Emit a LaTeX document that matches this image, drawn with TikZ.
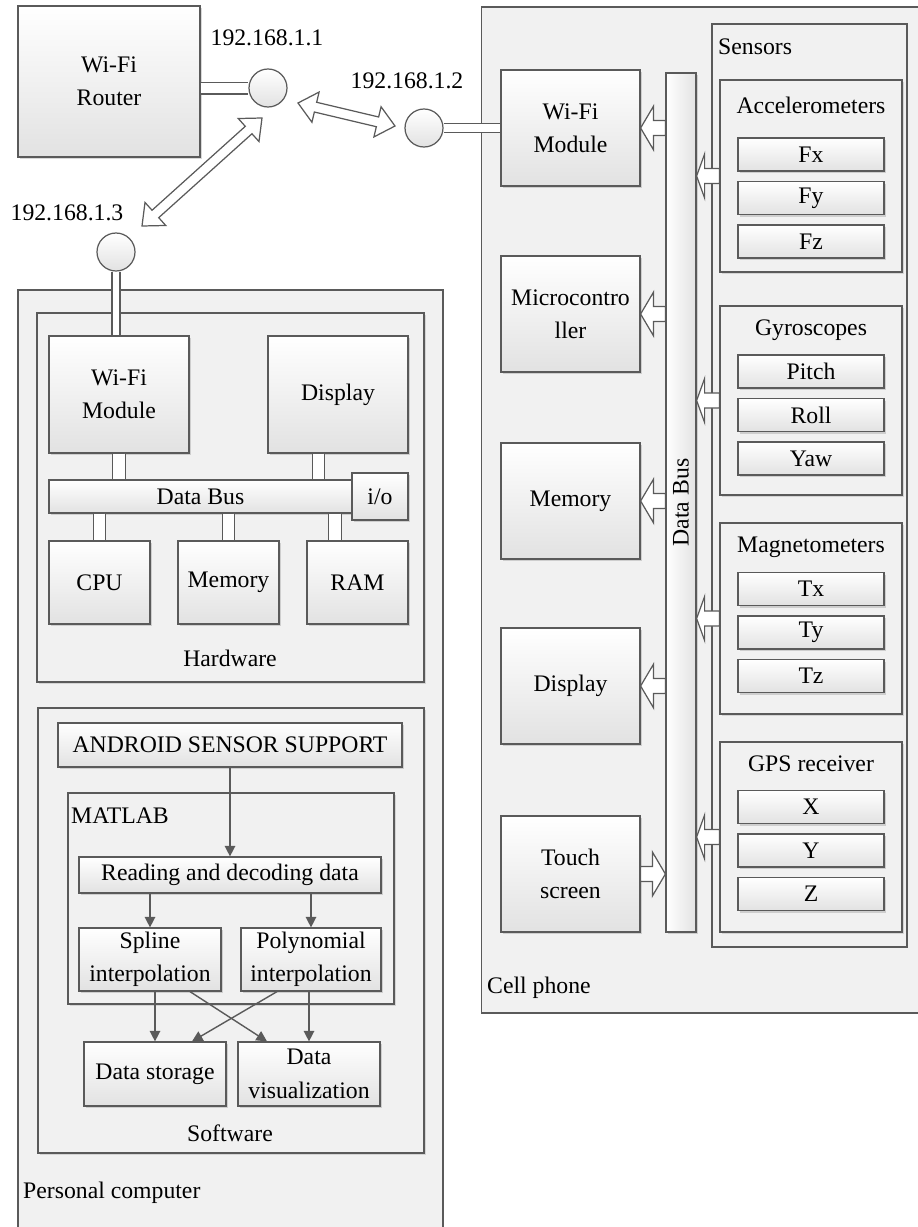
\documentclass[tikz,border=0pt]{standalone}
\usepackage{fontspec}
\setmainfont{Liberation Serif}
\usetikzlibrary{arrows.meta,calc,shadows,positioning}

\definecolor{linegray}{HTML}{5A5A5A}
\definecolor{panelgray}{HTML}{F1F1F1}
\definecolor{boxgray}{HTML}{E2E2E2}

% hollow block arrow, optional head length, tail -> tip
\newcommand{\onearrow}[3][0.26cm]{%
  \coordinate (ba) at (#2);
  \coordinate (bb) at (#3);
  \coordinate (bh) at ($(bb)!#1!(ba)$);
  \draw[barrow] ($(ba)!0.15cm!90:(bb)$) -- ($(bh)!0.15cm!-90:(ba)$) -- ($(bh)!0.44cm!-90:(ba)$)
    -- (bb) -- ($(bh)!0.44cm!90:(ba)$) -- ($(bh)!0.15cm!90:(ba)$) -- ($(ba)!0.15cm!-90:(bb)$) -- cycle;}
% hollow double-headed block arrow
\newcommand{\dblarrow}[2]{%
  \coordinate (h1) at ($(#1)!0.36cm!(#2)$);
  \coordinate (h2) at ($(#2)!0.36cm!(#1)$);
  \draw[barrow] (#1) -- ($(h1)!0.31cm!90:(#2)$) -- ($(h1)!0.1cm!90:(#2)$) -- ($(h2)!0.1cm!-90:(#1)$)
    -- ($(h2)!0.31cm!-90:(#1)$) -- (#2) -- ($(h2)!0.31cm!90:(#1)$) -- ($(h2)!0.1cm!90:(#1)$)
    -- ($(h1)!0.1cm!-90:(#2)$) -- ($(h1)!0.31cm!-90:(#2)$) -- cycle;}

\begin{document}
\begin{tikzpicture}[x=0.02cm,y=-0.02cm,
  font=\fontsize{13.5}{19}\selectfont,
  frame/.style={draw=linegray,fill=panelgray,line width=0.7pt,inner sep=0pt},
  group/.style={frame,drop shadow={shadow xshift=1pt,shadow yshift=-1pt,opacity=0.25}},
  block/.style={draw=linegray,top color=white,bottom color=boxgray,line width=0.7pt,align=center,inner sep=1pt,
    drop shadow={shadow xshift=1.2pt,shadow yshift=-1.2pt,opacity=0.3}},
  port/.style={circle,draw=linegray,top color=white,bottom color=boxgray,line width=0.7pt,minimum size=0.76cm,inner sep=0pt},
  pipe/.style={draw=linegray,line width=0.7pt,double=white,double distance=#1},
  flow/.style={draw=linegray,line width=0.8pt,-{Triangle[length=6pt,width=6pt]}},
  barrow/.style={draw=linegray,fill=white,line width=0.7pt,line join=miter}]
\path[fill=white,use as bounding box] (0,0) rectangle (917,1227);

% Network
\node[block,minimum width=3.64cm,minimum height=3.02cm] (router) at (109,81.5) {Wi-Fi\\Router};
\node[port] (ip1) at (268,88) {};
\node[port] (ip2) at (424,128) {};
\node[port] (ip3) at (116,252) {};
\node (ip1lbl) at (267,38) {192.168.1.1};
\node (ip2lbl) at (407,81) {192.168.1.2};
\node (ip3lbl) at (67,213) {192.168.1.3};
\coordinate (a1s) at (298,103);
\coordinate (a1e) at (395,126);
\coordinate (a2s) at (262,118);
\coordinate (a2e) at (142,226);

% Cell phone
\node[frame,minimum width=9.1cm,minimum height=20.12cm] (phone) at (709,510) {};
\node[anchor=west] (phonelbl) at (481,988) {Cell phone};
\node[frame,minimum width=3.9cm,minimum height=18.46cm] (sensors) at (809.5,485.5) {};
\node[anchor=west] (senslbl) at (712,47) {Sensors};
\node[block,minimum width=2.78cm,minimum height=2.32cm] (cwifi) at (570.5,128) {Wi-Fi\\Module};
\node[block,minimum width=2.78cm,minimum height=2.32cm] (cmcu) at (570.5,314) {Microcontro\\ller};
\node[block,minimum width=2.78cm,minimum height=2.32cm] (cmem) at (570.5,501) {Memory};
\node[block,minimum width=2.78cm,minimum height=2.32cm] (cdisp) at (570.5,686) {Display};
\node[block,minimum width=2.78cm,minimum height=2.32cm] (ctouch) at (570.5,874) {Touch\\screen};
\node[block,left color=white,right color=boxgray,minimum width=0.6cm,minimum height=17.18cm,
  label={[rotate=90]center:Data Bus}] (cbus) at (681,502.5) {};

% Sensor groups
\node[group,minimum width=3.64cm,minimum height=3.84cm] (acc) at (811,176) {};
\node (acclbl) at (811,105) {Accelerometers};
\node[block,minimum width=2.92cm,minimum height=0.66cm] (fx) at (811,154.5) {Fx};
\node[block,minimum width=2.92cm,minimum height=0.66cm] (fy) at (811,198) {Fy};
\node[block,minimum width=2.92cm,minimum height=0.66cm] (fz) at (811,241.5) {Fz};
\node[group,minimum width=3.64cm,minimum height=3.78cm] (gyro) at (811,400.5) {};
\node (gyrolbl) at (811,330) {Gyroscopes};
\node[block,minimum width=2.92cm,minimum height=0.66cm] (pitch) at (811,371.5) {Pitch};
\node[block,minimum width=2.92cm,minimum height=0.66cm] (roll) at (811,415) {Roll};
\node[block,minimum width=2.92cm,minimum height=0.66cm] (yaw) at (811,458.5) {Yaw};
\node[group,minimum width=3.64cm,minimum height=3.82cm] (mag) at (811,618.5) {};
\node (maglbl) at (811,547) {Magnetometers};
\node[block,minimum width=2.92cm,minimum height=0.66cm] (tx) at (811,589) {Tx};
\node[block,minimum width=2.92cm,minimum height=0.66cm] (ty) at (811,632.5) {Ty};
\node[block,minimum width=2.92cm,minimum height=0.66cm] (tz) at (811,676) {Tz};
\node[group,minimum width=3.64cm,minimum height=3.8cm] (gps) at (811,837) {};
\node (gpslbl) at (811,764) {GPS receiver};
\node[block,minimum width=2.92cm,minimum height=0.66cm] (gx) at (811,807) {X};
\node[block,minimum width=2.92cm,minimum height=0.66cm] (gy) at (811,850.5) {Y};
\node[block,minimum width=2.92cm,minimum height=0.66cm] (gz) at (811,894) {Z};

% Personal computer
\node[frame,minimum width=8.5cm,minimum height=18.9cm] (pc) at (230.5,762.5) {};
\node[anchor=west] (pclbl) at (17,1193) {Personal computer};
\node[group,minimum width=7.74cm,minimum height=7.38cm] (hw) at (230.5,497.5) {};
\node (hwlbl) at (230,658) {Hardware};
\node[block,minimum width=2.8cm,minimum height=2.34cm] (hwifi) at (119,394.5) {Wi-Fi\\Module};
\node[block,minimum width=2.8cm,minimum height=2.34cm] (hdisp) at (338,394.5) {Display};
\node[block,minimum width=6.06cm,minimum height=0.66cm] (hbus) at (200.5,496.5) {Data Bus};
\node[block,minimum width=1.12cm,minimum height=0.94cm] (hio) at (380,496.5) {i/o};
\node[block,minimum width=2.02cm,minimum height=1.66cm] (cpu) at (99.5,582.5) {CPU};
\node[block,minimum width=2.02cm,minimum height=1.66cm] (hmem) at (228.5,582.5) {Memory};
\node[block,minimum width=2.02cm,minimum height=1.66cm] (ram) at (357.5,582.5) {RAM};

% Software
\node[group,minimum width=7.72cm,minimum height=8.9cm] (sw) at (231,930.5) {};
\node (swlbl) at (230,1133) {Software};
\node[block,minimum width=6.88cm,minimum height=0.88cm] (android) at (230,745) {ANDROID SENSOR SUPPORT};
\node[group,minimum width=6.52cm,minimum height=4.22cm] (matlab) at (231,898.5) {};
\node[anchor=west] (matlbl) at (65,816) {MATLAB};
\node[block,minimum width=6.04cm,minimum height=0.72cm] (reading) at (230,875) {Reading and decoding data};
\node[block,minimum width=2.84cm,minimum height=1.26cm] (spline) at (150,959.5) {Spline\\interpolation};
\node[block,minimum width=2.8cm,minimum height=1.26cm] (poly) at (311,959.5) {Polynomial\\interpolation};
\node[block,minimum width=2.84cm,minimum height=1.28cm] (storage) at (155,1074) {Data storage};
\node[block,minimum width=2.84cm,minimum height=1.28cm] (visual) at (309,1074) {Data\\visualization};

% Links
\draw[pipe=6pt] (router.east |- ip1) -- (ip1);
\draw[pipe=4.4pt] (ip2) -- (cwifi.west |- ip2);
\draw[pipe=3.8pt] (ip3) -- (ip3 |- hwifi.north);
\draw[pipe=6.5pt] (hwifi.south) -- (hwifi.south |- hbus.north);
\draw[pipe=6.5pt] ([xshift=-0.39cm]hdisp.south) -- ([xshift=-0.39cm]hdisp.south |- hbus.north);
\draw[pipe=6.5pt] (cpu.north |- hbus.south) -- (cpu.north);
\draw[pipe=6.5pt] (hmem.north |- hbus.south) -- (hmem.north);
\draw[pipe=6.5pt] ([xshift=-0.45cm]ram.north |- hbus.south) -- ([xshift=-0.45cm]ram.north);
\dblarrow{a1s}{a1e}
\dblarrow{a2s}{a2e}

% Data flow
\draw[flow] (android) -- (reading);
\draw[flow] (reading.south -| spline) -- (spline);
\draw[flow] (reading.south -| poly) -- (poly);
\draw[flow] (spline.south -| storage) -- (storage);
\draw[flow] (poly.south -| visual) -- (visual);
\draw[flow] ([xshift=0.8cm]spline.south) -- ([xshift=-0.84cm]visual.north);
\draw[flow] ([xshift=-0.68cm]poly.south) -- ([xshift=0.74cm]storage.north);

% Bus arrows
\onearrow{cbus.west |- cwifi}{cwifi.east}
\onearrow{cbus.west |- cmcu}{cmcu.east}
\onearrow{cbus.west |- cmem}{cmem.east}
\onearrow{cbus.west |- cdisp}{cdisp.east}
\onearrow{ctouch.east}{cbus.west |- ctouch}
\onearrow[0.16cm]{acc.west}{cbus.east |- acc}
\onearrow[0.16cm]{gyro.west}{cbus.east |- gyro}
\onearrow[0.16cm]{mag.west}{cbus.east |- mag}
\onearrow[0.16cm]{gps.west}{cbus.east |- gps}
\end{tikzpicture}
\end{document}
